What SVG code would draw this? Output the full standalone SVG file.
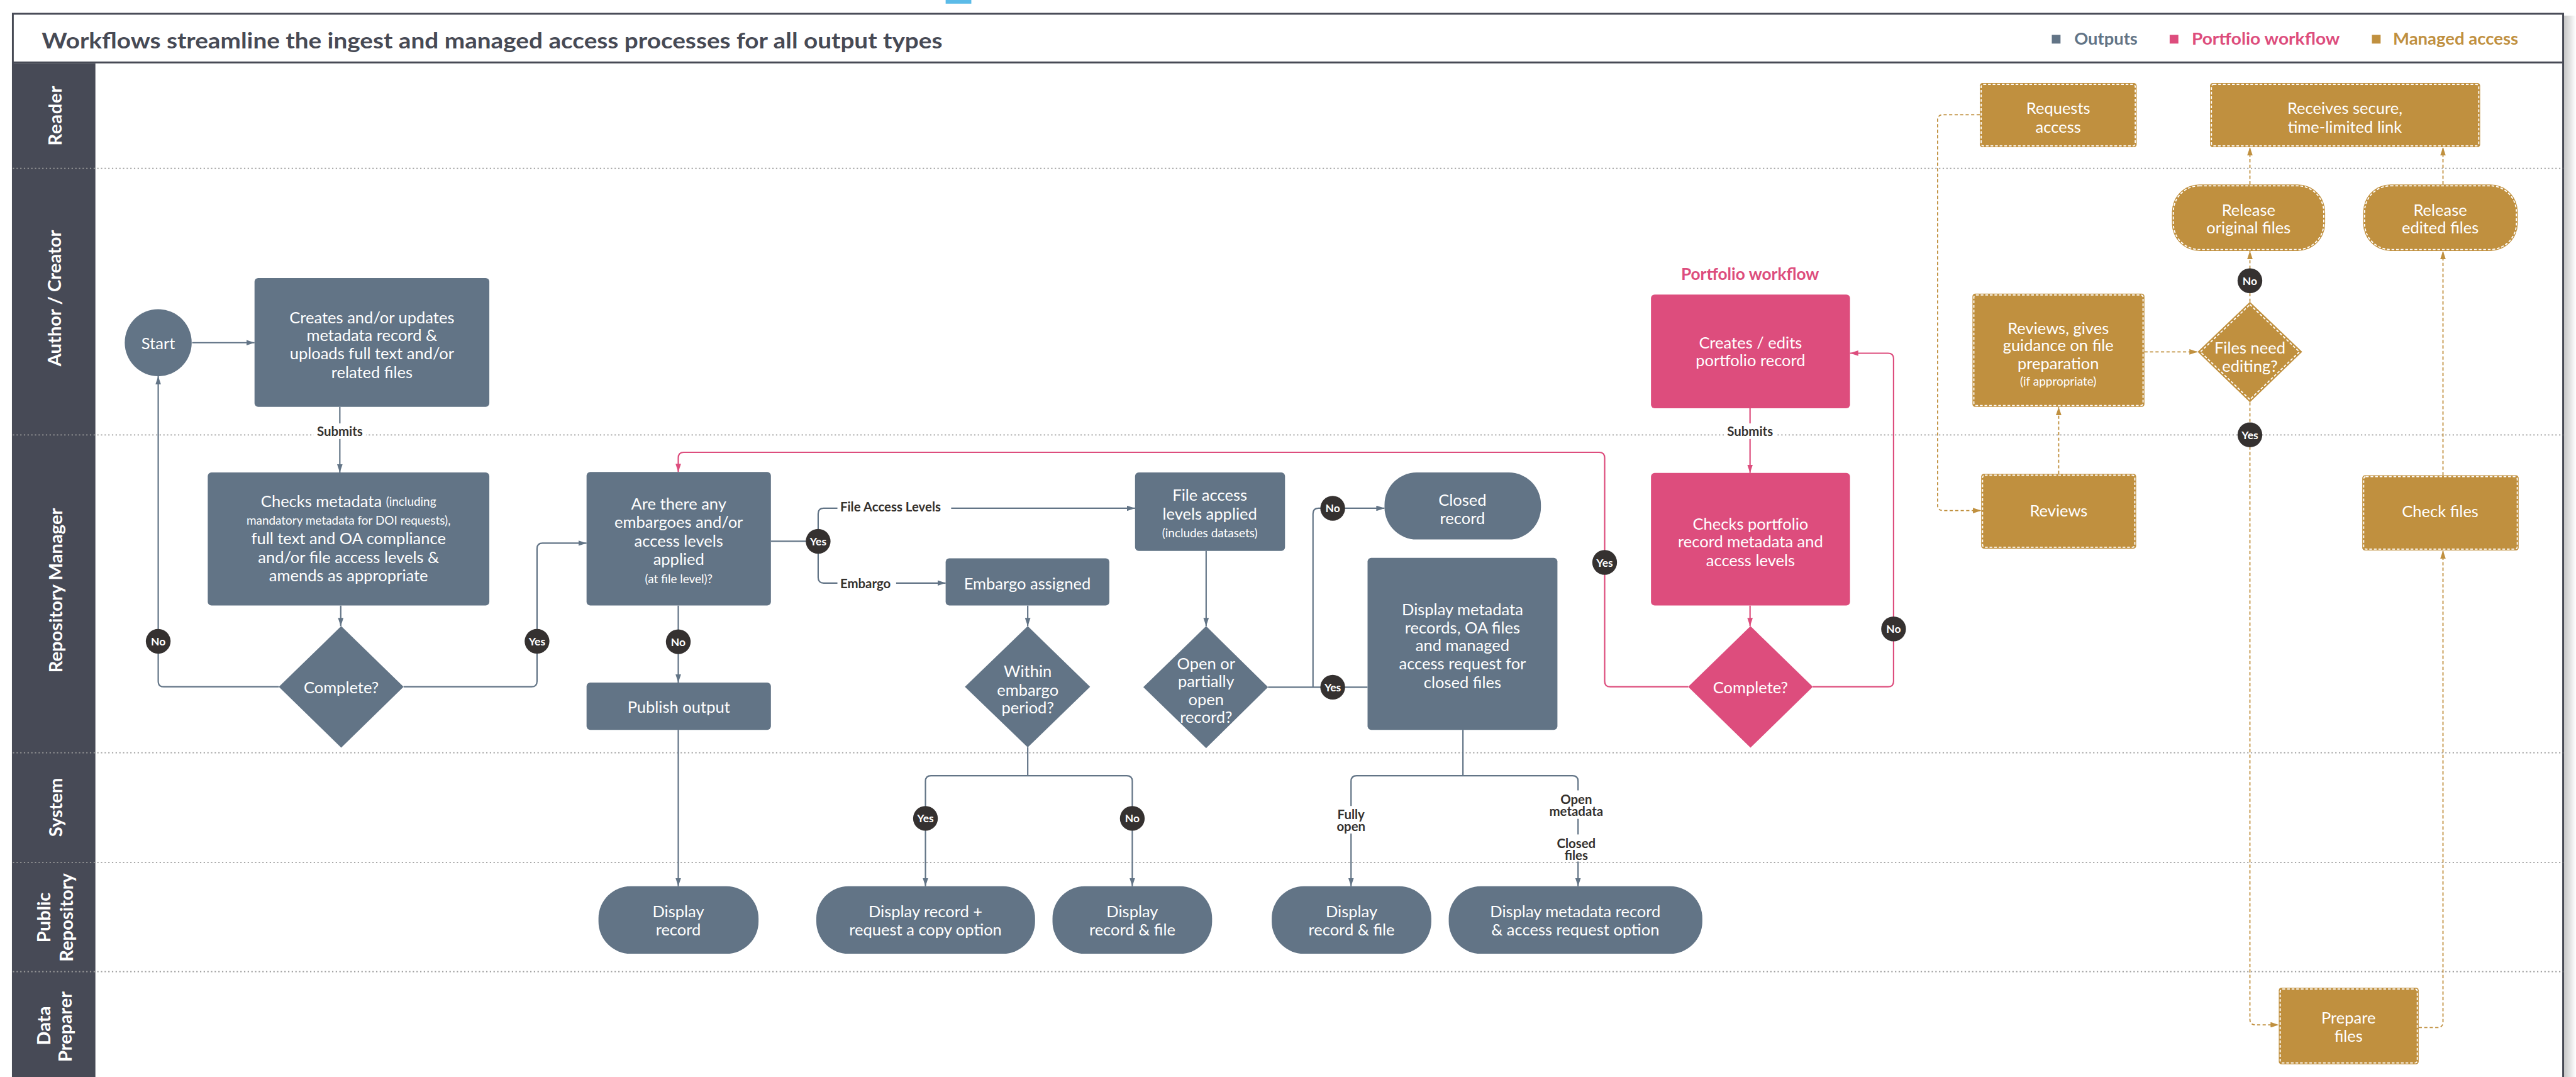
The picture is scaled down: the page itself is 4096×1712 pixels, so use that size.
<svg xmlns="http://www.w3.org/2000/svg" width="4096" height="1712" viewBox="0 0 4096 1712">
<defs>
<style>
.t{font-family:Lato,'Open Sans','Liberation Sans',sans-serif;font-size:35px;fill:#fff;text-anchor:middle;dominant-baseline:central}
.s{font-size:26px}
.lbl{font-family:Lato,'Open Sans','Liberation Sans',sans-serif;font-weight:700;font-size:28px;fill:#35312e;text-anchor:middle;dominant-baseline:central}
.bt{font-family:Lato,'Open Sans','Liberation Sans',sans-serif;font-weight:700;font-size:24px;fill:#fff;text-anchor:middle;dominant-baseline:central}
.lane{font-family:Lato,'Open Sans','Liberation Sans',sans-serif;font-weight:700;font-size:40px;fill:#fff;text-anchor:middle;dominant-baseline:central}
.o{fill:#627486}
.p{fill:#dd4d7d}
.g{fill:#c0903f}
.badge{fill:#353130}
.cs{fill:none;stroke:#627486;stroke-width:3}
.cp{fill:none;stroke:#dd4d7d;stroke-width:3}
.cg{fill:none;stroke:#c0903f;stroke-width:2.5;stroke-dasharray:7 5}
.dash{fill:none;stroke:#fff;stroke-width:2.5;stroke-dasharray:6 4}
.ll{stroke:#9b9b9b;stroke-width:2.5;stroke-dasharray:3 5}
.bg{fill:#fff}
</style>
<marker id="as" markerUnits="userSpaceOnUse" markerWidth="18" markerHeight="12" refX="18" refY="6" orient="auto"><path d="M0,0 L18,6 L0,12 z" fill="#627486"/></marker>
<marker id="ap" markerUnits="userSpaceOnUse" markerWidth="18" markerHeight="12" refX="18" refY="6" orient="auto"><path d="M0,0 L18,6 L0,12 z" fill="#dd4d7d"/></marker>
<marker id="ag" markerUnits="userSpaceOnUse" markerWidth="18" markerHeight="12" refX="18" refY="6" orient="auto"><path d="M0,0 L18,6 L0,12 z" fill="#c0903f"/></marker>
<linearGradient id="shd" x1="0" x2="1" y1="0" y2="0"><stop offset="0" stop-color="#000" stop-opacity="0.22"/><stop offset="1" stop-color="#000" stop-opacity="0"/></linearGradient>
</defs>
<rect width="4096" height="1712" fill="#fff"/>
<g transform="scale(0.72921)">
<g id="frame">
<rect x="5591" y="34" width="26" height="2330" fill="url(#shd)"/>
<rect x="2062" y="0" width="56" height="8" fill="#5bbbe8"/>
<rect x="28" y="30" width="5561" height="2400" fill="#fff" stroke="#474a55" stroke-width="4"/>
<line x1="28" y1="136" x2="5589" y2="136" stroke="#474a55" stroke-width="4"/>
<rect x="28" y="138" width="180" height="2230" fill="#474a56"/>
<text x="91" y="87" textLength="1964" lengthAdjust="spacingAndGlyphs" style="font-family:Lato,'Open Sans','Liberation Sans',sans-serif;font-weight:700;font-size:47px;fill:#474a55;dominant-baseline:central">Workflows streamline the ingest and managed access processes for all output types</text>
</g>
<g id="legend">
<rect x="4474" y="76" width="19" height="19" class="o"/>
<text x="4523" y="97" textLength="138" lengthAdjust="spacingAndGlyphs" style="font-family:Lato,'Open Sans',sans-serif;font-weight:700;font-size:37px;fill:#627486">Outputs</text>
<rect x="4731" y="76" width="19" height="19" class="p"/>
<text x="4779" y="97" textLength="323" lengthAdjust="spacingAndGlyphs" style="font-family:Lato,'Open Sans',sans-serif;font-weight:700;font-size:37px;fill:#dd4d7d">Portfolio workflow</text>
<rect x="5172" y="76" width="19" height="19" class="g"/>
<text x="5218" y="97" textLength="273" lengthAdjust="spacingAndGlyphs" style="font-family:Lato,'Open Sans',sans-serif;font-weight:700;font-size:37px;fill:#c0903f">Managed access</text>
</g>
<g id="lanes">
<line class="ll" x1="28" y1="367" x2="5589" y2="367"/>
<line class="ll" x1="28" y1="948" x2="5589" y2="948"/>
<line class="ll" x1="28" y1="1641" x2="5589" y2="1641"/>
<line class="ll" x1="28" y1="1880" x2="5589" y2="1880"/>
<line class="ll" x1="28" y1="2118" x2="5589" y2="2118"/>
<text class="lane" transform="translate(119,252) rotate(-90)" letter-spacing="1">Reader</text>
<text class="lane" transform="translate(117,650) rotate(-90)">Author / Creator</text>
<text class="lane" transform="translate(120,1287) rotate(-90)">Repository Manager</text>
<text class="lane" transform="translate(120,1760) rotate(-90)">System</text>
<text class="lane" transform="translate(94,2000) rotate(-90)">Public</text>
<text class="lane" transform="translate(143,2000) rotate(-90)">Repository</text>
<text class="lane" transform="translate(94,2236) rotate(-90)">Data</text>
<text class="lane" transform="translate(141,2238) rotate(-90)">Preparer</text>
</g>
<g id="connectors">
<path class="cs" d="M419,747 H555" marker-end="url(#as)"/>
<path class="cs" d="M741,887 V1030" marker-end="url(#as)"/>
<path class="cs" d="M743,1320 V1365" marker-end="url(#as)"/>
<path class="cs" d="M608,1497 H357 Q345,1497 345,1485 V820" marker-end="url(#as)"/>
<path class="cs" d="M880,1497 H1159 Q1171,1497 1171,1485 V1196 Q1171,1184 1183,1184 H1279" marker-end="url(#as)"/>
<path class="cs" d="M1681,1180 H1784"/>
<path class="cs" d="M1784,1180 V1120 Q1784,1108 1796,1108 H2475" marker-end="url(#as)"/>
<path class="cs" d="M1784,1180 V1259 Q1784,1271 1796,1271 H2062" marker-end="url(#as)"/>
<path class="cs" d="M1479,1320 V1488" marker-end="url(#as)"/>
<path class="cs" d="M1479,1591 V1932" marker-end="url(#as)"/>
<path class="cs" d="M2241,1320 V1365" marker-end="url(#as)"/>
<path class="cs" d="M2241,1629 V1691"/>
<path class="cs" d="M2241,1691 H2030 Q2018,1691 2018,1703 V1932" marker-end="url(#as)"/>
<path class="cs" d="M2241,1691 H2457 Q2469,1691 2469,1703 V1932" marker-end="url(#as)"/>
<path class="cs" d="M2630,1201 V1365" marker-end="url(#as)"/>
<path class="cs" d="M2765,1498 H2982"/>
<path class="cs" d="M2863,1498 V1120 Q2863,1108 2875,1108 H3019" marker-end="url(#as)"/>
<path class="cs" d="M3190,1591 V1691"/>
<path class="cs" d="M3190,1691 H2958 Q2946,1691 2946,1703 V1932" marker-end="url(#as)"/>
<path class="cs" d="M3190,1691 H3429 Q3441,1691 3441,1703 V1932" marker-end="url(#as)"/>
<path class="cp" d="M3816,890 V1031" marker-end="url(#ap)"/>
<path class="cp" d="M3816,1320 V1365" marker-end="url(#ap)"/>
<path class="cp" d="M3681,1497 H3511 Q3499,1497 3499,1485 V998 Q3499,986 3487,986 H1491 Q1479,986 1479,998 V1029" marker-end="url(#ap)"/>
<path class="cp" d="M3953,1497 H4117 Q4129,1497 4129,1485 V782 Q4129,770 4117,770 H4034" marker-end="url(#ap)"/>
<path class="cg" d="M4317,250 H4237 Q4225,250 4225,262 V1101 Q4225,1113 4237,1113 H4320" marker-end="url(#ag)"/>
<path class="cg" d="M4489,1033 V887" marker-end="url(#ag)"/>
<path class="cg" d="M4676,767 H4792" marker-end="url(#ag)"/>
<path class="cg" d="M4906,658 V547" marker-end="url(#ag)"/>
<path class="cg" d="M4906,402 V321" marker-end="url(#ag)"/>
<path class="cg" d="M4906,877 V2222 Q4906,2234 4918,2234 H4969" marker-end="url(#ag)"/>
<path class="cg" d="M5274,2240 H5315 Q5327,2240 5327,2228 V1200" marker-end="url(#ag)"/>
<path class="cg" d="M5327,1036 V547" marker-end="url(#ag)"/>
<path class="cg" d="M5327,402 V321" marker-end="url(#ag)"/>
<rect class="bg" x="684" y="923" width="114" height="34"/>
<text class="lbl" x="741" y="940">Submits</text>
<rect class="bg" x="3759" y="923" width="114" height="34"/>
<text class="lbl" x="3816" y="940">Submits</text>
<rect class="bg" x="1826" y="1087" width="248" height="34"/>
<text class="lbl" x="1832" y="1104" style="text-anchor:start">File Access Levels</text>
<rect class="bg" x="1826" y="1254" width="128" height="34"/>
<text class="lbl" x="1832" y="1271" style="text-anchor:start">Embargo</text>
<rect class="bg" x="2910" y="1757" width="72" height="60"/>
<text class="lbl" x="2946" y="1775">Fully</text>
<text class="lbl" x="2946" y="1800">open</text>
<rect class="bg" x="3381" y="1723" width="112" height="62"/>
<text class="lbl" x="3437" y="1741">Open</text>
<text class="lbl" x="3437" y="1767">metadata</text>
<rect class="bg" x="3396" y="1819" width="84" height="59"/>
<text class="lbl" x="3437" y="1837">Closed</text>
<text class="lbl" x="3437" y="1864">files</text>
<g id="badges">
<circle class="badge" cx="345" cy="1398" r="27"/><text class="bt" x="345" y="1398">No</text>
<circle class="badge" cx="1171" cy="1398" r="27"/><text class="bt" x="1171" y="1398">Yes</text>
<circle class="badge" cx="1784" cy="1180" r="27"/><text class="bt" x="1784" y="1180">Yes</text>
<circle class="badge" cx="1479" cy="1399" r="27"/><text class="bt" x="1479" y="1399">No</text>
<circle class="badge" cx="2906" cy="1108" r="27"/><text class="bt" x="2906" y="1108">No</text>
<circle class="badge" cx="2906" cy="1498" r="27"/><text class="bt" x="2906" y="1498">Yes</text>
<circle class="badge" cx="2018" cy="1784" r="27"/><text class="bt" x="2018" y="1784">Yes</text>
<circle class="badge" cx="2469" cy="1784" r="27"/><text class="bt" x="2469" y="1784">No</text>
<circle class="badge" cx="3499" cy="1226" r="27"/><text class="bt" x="3499" y="1226">Yes</text>
<circle class="badge" cx="4129" cy="1371" r="27"/><text class="bt" x="4129" y="1371">No</text>
<circle class="badge" cx="4906" cy="612" r="27"/><text class="bt" x="4906" y="612">No</text>
<circle class="badge" cx="4906" cy="948" r="27"/><text class="bt" x="4906" y="948">Yes</text>
</g>
</g>
<g id="start"><circle class="o" cx="345" cy="747" r="73"/><text class="t" x="345" y="747">Start</text></g>
<g id="creates"><rect class="o" x="555" y="606" width="512" height="281" rx="8"/>
<text class="t" x="811" y="691">Creates and/or updates</text><text class="t" x="811" y="730">metadata record &amp;</text><text class="t" x="811" y="770">uploads full text and/or</text><text class="t" x="811" y="810">related files</text></g>
<g id="checks"><rect class="o" x="453" y="1030" width="614" height="290" rx="8"/>
<text class="t" x="760" y="1091">Checks metadata <tspan class="s">(including</tspan></text>
<text class="t s" x="760" y="1134">mandatory metadata for DOI requests),</text>
<text class="t" x="760" y="1172">full text and OA compliance</text>
<text class="t" x="760" y="1214">and/or file access levels &amp;</text>
<text class="t" x="760" y="1254">amends as appropriate</text></g>
<g id="complete1"><polygon class="o" points="744,1365 880,1497 744,1630 608,1497"/><text class="t" x="744" y="1497">Complete?</text></g>
<g id="arethere"><rect class="o" x="1279" y="1029" width="402" height="291" rx="8"/>
<text class="t" x="1480" y="1097">Are there any</text><text class="t" x="1480" y="1137">embargoes and/or</text><text class="t" x="1480" y="1178">access levels</text><text class="t" x="1480" y="1218">applied</text><text class="t s" x="1480" y="1261">(at file level)?</text></g>
<g id="publish"><rect class="o" x="1279" y="1488" width="402" height="103" rx="8"/><text class="t" x="1480" y="1540">Publish output</text></g>
<g id="embargo"><rect class="o" x="2062" y="1217" width="357" height="103" rx="8"/><text class="t" x="2240" y="1271">Embargo assigned</text></g>
<g id="within"><polygon class="o" points="2241,1365 2377,1497 2241,1629 2104,1497"/>
<text class="t" x="2241" y="1462">Within</text><text class="t" x="2241" y="1503">embargo</text><text class="t" x="2241" y="1541">period?</text></g>
<g id="fileaccess"><rect class="o" x="2475" y="1030" width="327" height="171" rx="8"/>
<text class="t" x="2638" y="1078">File access</text><text class="t" x="2638" y="1119">levels applied</text><text class="t s" x="2638" y="1161">(includes datasets)</text></g>
<g id="openq"><polygon class="o" points="2630,1365 2765,1498 2630,1631 2493,1498"/>
<text class="t" x="2630" y="1445">Open or</text><text class="t" x="2630" y="1484">partially</text><text class="t" x="2630" y="1524">open</text><text class="t" x="2630" y="1562">record?</text></g>
<g id="closed"><rect class="o" x="3019" y="1030" width="341" height="146" rx="70"/>
<text class="t" x="3189" y="1089">Closed</text><text class="t" x="3189" y="1129">record</text></g>
<g id="displaymeta"><rect class="o" x="2982" y="1216" width="414" height="375" rx="8"/>
<text class="t" x="3189" y="1328">Display metadata</text><text class="t" x="3189" y="1367">records, OA files</text><text class="t" x="3189" y="1406">and managed</text><text class="t" x="3189" y="1445">access request for</text><text class="t" x="3189" y="1486">closed files</text></g>
<g id="pill1"><rect class="o" x="1305" y="1932" width="349" height="147" rx="70"/><text class="t" x="1479" y="1986">Display</text><text class="t" x="1479" y="2025">record</text></g>
<g id="pill2"><rect class="o" x="1780" y="1932" width="477" height="147" rx="70"/><text class="t" x="2018" y="1986">Display record +</text><text class="t" x="2018" y="2025">request a copy option</text></g>
<g id="pill3"><rect class="o" x="2295" y="1932" width="348" height="147" rx="70"/><text class="t" x="2469" y="1986">Display</text><text class="t" x="2469" y="2025">record &amp; file</text></g>
<g id="pill4"><rect class="o" x="2773" y="1932" width="348" height="147" rx="70"/><text class="t" x="2947" y="1986">Display</text><text class="t" x="2947" y="2025">record &amp; file</text></g>
<g id="pill5"><rect class="o" x="3159" y="1932" width="553" height="147" rx="70"/><text class="t" x="3435" y="1986">Display metadata record</text><text class="t" x="3435" y="2025">&amp; access request option</text></g>
<g id="portfolio-title"><text x="3816" y="596" style="font-family:Lato,'Open Sans',sans-serif;font-weight:700;font-size:36px;fill:#dd4d7d;text-anchor:middle;dominant-baseline:central">Portfolio workflow</text></g>
<g id="pcreates"><rect class="p" x="3600" y="642" width="434" height="248" rx="8"/><text class="t" x="3817" y="746">Creates / edits</text><text class="t" x="3817" y="785">portfolio record</text></g>
<g id="pchecks"><rect class="p" x="3600" y="1031" width="434" height="289" rx="8"/><text class="t" x="3817" y="1141">Checks portfolio</text><text class="t" x="3817" y="1180">record metadata and</text><text class="t" x="3817" y="1220">access levels</text></g>
<g id="pcomplete"><polygon class="p" points="3817,1365 3953,1497 3817,1630 3681,1497"/><text class="t" x="3817" y="1497">Complete?</text></g>
<g id="requests"><rect class="g" x="4317" y="181" width="342" height="140" rx="6"/><rect class="dash" x="4320" y="184" width="336" height="134" rx="5"/>
<text class="t" x="4488" y="234">Requests</text><text class="t" x="4488" y="275">access</text></g>
<g id="receives"><rect class="g" x="4819" y="181" width="589" height="140" rx="6"/><rect class="dash" x="4822" y="184" width="583" height="134" rx="5"/>
<text class="t" x="5113" y="234">Receives secure,</text><text class="t" x="5113" y="275">time-limited link</text></g>
<g id="relorig"><rect class="g" x="4736" y="402" width="334" height="145" rx="60"/><rect class="dash" x="4739" y="405" width="328" height="139" rx="57"/>
<text class="t" x="4903" y="456">Release</text><text class="t" x="4903" y="495">original files</text></g>
<g id="reledit"><rect class="g" x="5153" y="402" width="337" height="145" rx="60"/><rect class="dash" x="5156" y="405" width="331" height="139" rx="57"/>
<text class="t" x="5321" y="456">Release</text><text class="t" x="5321" y="495">edited files</text></g>
<g id="guidance"><rect class="g" x="4301" y="640" width="375" height="247" rx="6"/><rect class="dash" x="4304" y="643" width="369" height="241" rx="5"/>
<text class="t" x="4488" y="714">Reviews, gives</text><text class="t" x="4488" y="752">guidance on file</text><text class="t" x="4488" y="791">preparation</text><text class="t s" x="4488" y="830">(if appropriate)</text></g>
<g id="neededit"><polygon class="g" points="4906,658 5020,767 4906,877 4792,767"/><polygon class="dash" points="4906,664 5014,767 4906,871 4798,767"/>
<text class="t" x="4906" y="757">Files need</text><text class="t" x="4906" y="797">editing?</text></g>
<g id="reviews"><rect class="g" x="4320" y="1033" width="338" height="163" rx="6"/><rect class="dash" x="4323" y="1036" width="332" height="157" rx="5"/><text class="t" x="4489" y="1112">Reviews</text></g>
<g id="checkfiles"><rect class="g" x="5151" y="1036" width="341" height="164" rx="6"/><rect class="dash" x="5154" y="1039" width="335" height="158" rx="5"/><text class="t" x="5321" y="1113">Check files</text></g>
<g id="prepare"><rect class="g" x="4969" y="2153" width="305" height="167" rx="6"/><rect class="dash" x="4972" y="2156" width="299" height="161" rx="5"/>
<text class="t" x="5121" y="2218">Prepare</text><text class="t" x="5121" y="2257">files</text></g>
</g>
</svg>
